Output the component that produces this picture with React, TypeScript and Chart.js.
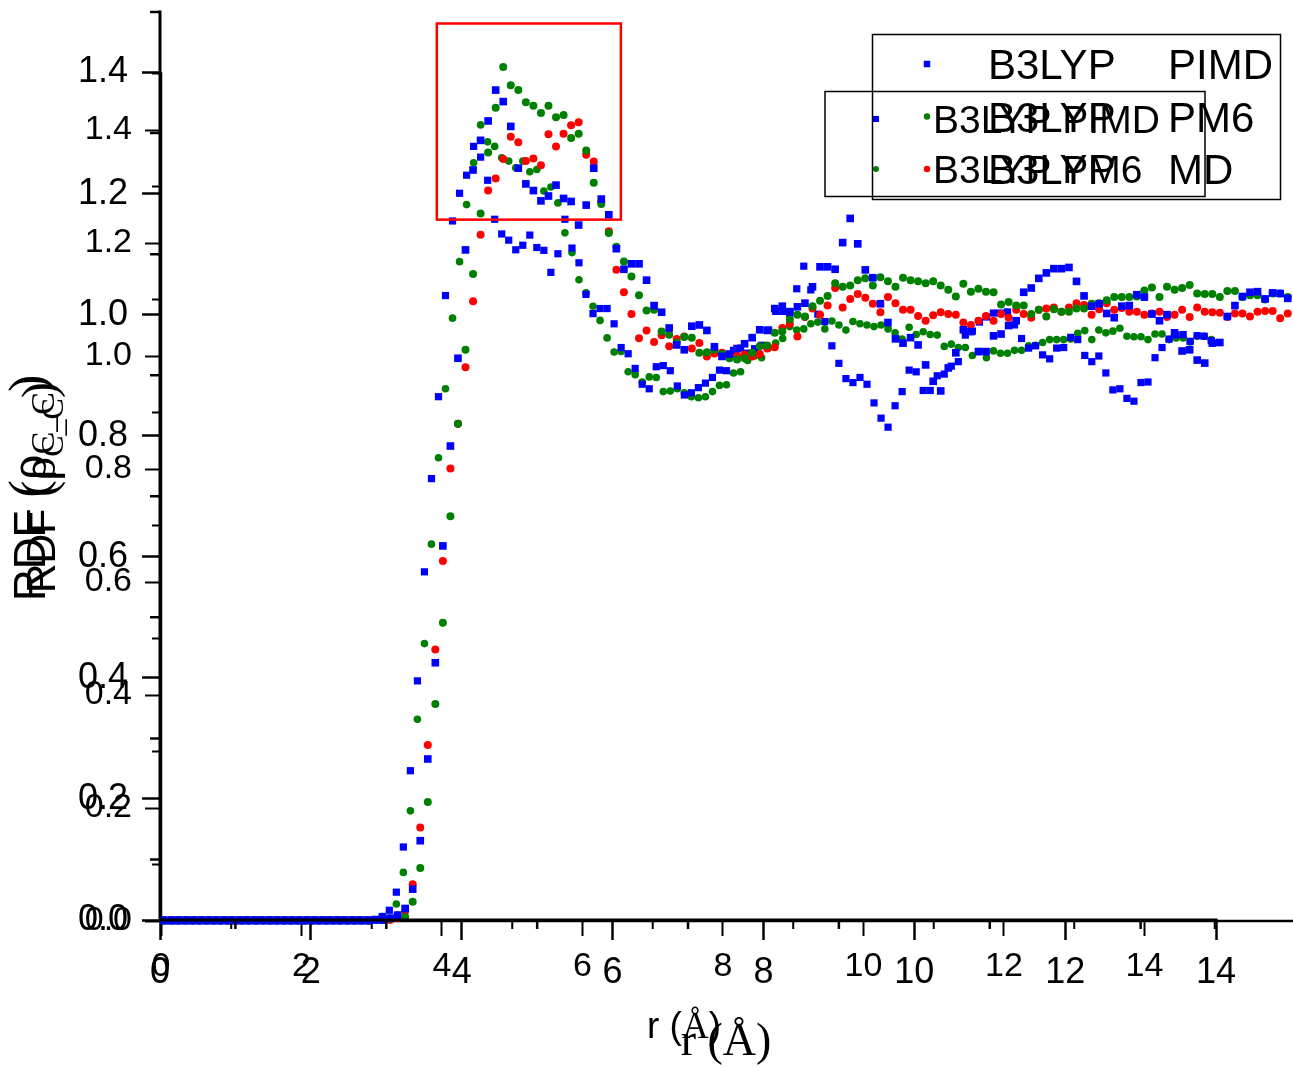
import { useEffect, useRef } from "react";
import { Chart, registerables } from "chart.js";

Chart.register(...registerables);

// ---------------- data ----------------
// radial distance bin centres (Å)
const rValues = [
  0.05, 0.15, 0.25, 0.35, 0.45, 0.55, 0.65, 0.75, 0.85, 0.95,
  1.05, 1.15, 1.25, 1.35, 1.45, 1.55, 1.65, 1.75, 1.85, 1.95,
  2.05, 2.15, 2.25, 2.35, 2.45, 2.55, 2.65, 2.75, 2.85, 2.95,
  3.05, 3.15, 3.25, 3.35, 3.45, 3.55, 3.65, 3.75, 3.85, 3.95,
  4.05, 4.15, 4.25, 4.35, 4.45, 4.55, 4.65, 4.75, 4.85, 4.95,
  5.05, 5.15, 5.25, 5.35, 5.45, 5.55, 5.65, 5.75, 5.85, 5.95,
  6.05, 6.15, 6.25, 6.35, 6.45, 6.55, 6.65, 6.75, 6.85, 6.95,
  7.05, 7.15, 7.25, 7.35, 7.45, 7.55, 7.65, 7.75, 7.85, 7.95,
  8.05, 8.15, 8.25, 8.35, 8.45, 8.55, 8.65, 8.75, 8.85, 8.95,
  9.05, 9.15, 9.25, 9.35, 9.45, 9.55, 9.65, 9.75, 9.85, 9.95,
  10.05, 10.15, 10.25, 10.35, 10.45, 10.55, 10.65, 10.75, 10.85, 10.95,
  11.05, 11.15, 11.25, 11.35, 11.45, 11.55, 11.65, 11.75, 11.85, 11.95,
  12.05, 12.15, 12.25, 12.35, 12.45, 12.55, 12.65, 12.75, 12.85, 12.95,
  13.05, 13.15, 13.25, 13.35, 13.45, 13.55, 13.65, 13.75, 13.85, 13.95,
  14.05, 14.15, 14.25, 14.35, 14.45, 14.55, 14.65, 14.75, 14.85, 14.95,
];

// B3LYP PIMD (blue squares)
const pimd = [
  0, 0, 0, 0, 0, 0, 0, 0, 0, 0,
  0, 0, 0, 0, 0, 0, 0, 0, 0, 0,
  0, 0, 0, 0, 0, 0, 0, 0, 0, 0,
  0.003, 0.008, 0.019, 0.051, 0.131, 0.266, 0.425, 0.618, 0.783, 0.928,
  1.107, 1.239, 1.288, 1.320, 1.371, 1.352, 1.311, 1.242, 1.216, 1.205,
  1.188, 1.196, 1.214, 1.192, 1.187, 1.148, 1.181, 1.242, 1.191, 1.165,
  1.109, 1.075, 1.084, 1.084, 1.057, 1.015, 1.004, 0.978, 0.950, 0.942,
  0.981, 0.983, 0.974, 0.947, 0.931, 0.935, 0.944, 0.952, 0.962, 0.975,
  0.974, 1.010, 1.014, 1.005, 1.013, 1.019, 1.046, 1.079, 1.079, 1.075,
  1.119, 1.159, 1.117, 1.074, 1.061, 1.018, 0.987, 0.960, 0.953, 0.962,
  0.950, 0.917, 0.890, 0.874, 0.912, 0.937, 0.975, 0.972, 0.939, 0.939,
  0.965, 0.968, 0.982, 0.990, 1.037, 1.044, 1.060, 1.069, 1.076, 1.076,
  1.078, 1.055, 1.031, 1.014, 1.018, 1.002, 0.995, 1.014, 1.015, 1.033,
  1.029, 1.001, 0.990, 1.000, 0.970, 0.940, 0.942, 0.925, 0.920, 0.953,
  0.954, 0.997, 1.015, 1.030, 1.037, 1.038, 1.026, 1.036, 1.035, 1.027,
];

// B3LYP PM6 (green circles)
const pm6 = [
  0, 0, 0, 0, 0, 0, 0, 0, 0, 0,
  0, 0, 0, 0, 0, 0, 0, 0, 0, 0,
  0, 0, 0, 0, 0, 0, 0, 0, 0, 0,
  0.002, 0.008, 0.005, 0.030, 0.086, 0.195, 0.357, 0.491, 0.667, 0.820,
  0.942, 1.067, 1.167, 1.268, 1.342, 1.409, 1.379, 1.371, 1.351, 1.345,
  1.333, 1.345, 1.326, 1.330, 1.292, 1.299, 1.271, 1.218, 1.183, 1.135,
  1.112, 1.088, 1.063, 1.032, 1.007, 1.008, 0.972, 0.967, 0.954, 0.963,
  0.962, 0.937, 0.938, 0.942, 0.935, 0.928, 0.926, 0.928, 0.937, 0.948,
  0.949, 0.970, 0.972, 0.992, 1.000, 0.997, 1.014, 1.023, 1.031, 1.052,
  1.046, 1.048, 1.057, 1.060, 1.048, 1.062, 1.055, 1.046, 1.061, 1.057,
  1.055, 1.052, 1.055, 1.048, 1.041, 1.030, 1.051, 1.038, 1.043, 1.038,
  1.037, 1.017, 1.021, 1.015, 1.015, 1.001, 1.008, 0.997, 1.009, 1.005,
  1.005, 1.010, 1.010, 1.018, 1.019, 1.024, 1.029, 1.029, 1.029, 1.030,
  1.040, 1.045, 1.029, 1.046, 1.041, 1.044, 1.049, 1.035, 1.034, 1.034,
  1.029, 1.039, 1.039, 1.029, 1.032, 1.032, 1.025, 1.035, 1.035, 1.029,
];

// B3LYP MD (red circles)
const md = [
  0, 0, 0, 0, 0, 0, 0, 0, 0, 0,
  0, 0, 0, 0, 0, 0, 0, 0, 0, 0,
  0, 0, 0, 0, 0, 0, 0, 0, 0, 0,
  0.000, 0.003, 0.015, 0.059, 0.153, 0.289, 0.447, 0.593, 0.746, 0.820,
  0.913, 1.022, 1.132, 1.205, 1.225, 1.257, 1.294, 1.285, 1.254, 1.258,
  1.247, 1.298, 1.278, 1.299, 1.313, 1.318, 1.264, 1.253, 1.186, 1.138,
  1.074, 1.037, 1.001, 0.961, 0.974, 0.955, 0.966, 0.948, 0.960, 0.964,
  0.944, 0.953, 0.931, 0.936, 0.937, 0.932, 0.932, 0.934, 0.931, 0.935,
  0.944, 0.946, 0.978, 0.985, 0.964, 0.996, 1.010, 1.000, 1.015, 1.044,
  1.012, 1.026, 1.034, 1.028, 1.018, 1.004, 1.029, 1.019, 1.008, 1.008,
  0.998, 0.990, 0.999, 1.004, 1.001, 1.000, 0.987, 0.983, 0.990, 0.998,
  0.990, 1.001, 0.995, 1.008, 1.001, 0.995, 1.008, 1.010, 1.012, 1.005,
  1.012, 1.019, 1.016, 1.000, 1.009, 1.019, 1.008, 1.011, 1.005, 1.005,
  1.000, 1.002, 1.005, 0.996, 1.000, 1.008, 0.996, 1.012, 1.005, 1.004,
  1.003, 0.996, 1.002, 1.002, 0.997, 1.005, 1.006, 1.006, 0.994, 1.002,
];

// tick values
const xMajorTicks = [0, 2, 4, 6, 8, 10, 12, 14];
const xMinorTicksA = [1, 3, 5, 7, 9, 11, 13];
const xMinorTicksB = [1, 3, 5, 7, 9, 11, 13, 15];
const yMajorTicks = [0, 0.2, 0.4, 0.6, 0.8, 1.0, 1.2, 1.4];
const yMinorTicks = [0.1, 0.3, 0.5, 0.7, 0.9, 1.1, 1.3, 1.5];

// legend texts
const functionalName = "B3LYP";
const methodsA = ["PIMD", "PM6", "MD"];
const labelsB = ["B3LYP PIMD", "B3LYP PM6"];

// highlighted peak region (plot A data coordinates)
const highlightBox = { r0: 3.67, r1: 6.11, g0: 1.157, g1: 1.481 };

const BLUE = "#0000ff";
const GREEN = "#008000";
const RED = "#ff0000";
const SANS = "'Liberation Sans', Arial, sans-serif";
const SERIF = "'Liberation Serif', 'Times New Roman', serif";

const W = 1293;
const H = 1067;

type Run = { t: string; family: string; size: number; dy?: number };

function runsWidth(ctx: CanvasRenderingContext2D, runs: Run[]) {
  let w = 0;
  for (const r of runs) {
    ctx.font = `${r.size}px ${r.family}`;
    w += ctx.measureText(r.t).width;
  }
  return w;
}

function drawRuns(ctx: CanvasRenderingContext2D, runs: Run[], x: number, y: number) {
  let cx = x;
  ctx.textBaseline = "alphabetic";
  ctx.textAlign = "left";
  for (const r of runs) {
    ctx.font = `${r.size}px ${r.family}`;
    ctx.fillText(r.t, cx, y + (r.dy || 0));
    cx += ctx.measureText(r.t).width;
  }
}

function drawMarker(ctx: CanvasRenderingContext2D, style: string, color: string, x: number, y: number, size: number) {
  ctx.fillStyle = color;
  if (style === "rect") {
    ctx.fillRect(x - size / 2, y - size / 2, size, size);
  } else {
    ctx.beginPath();
    ctx.arc(x, y, size / 2, 0, Math.PI * 2);
    ctx.fill();
  }
}

type SeriesDef = { label: string; values: number[]; color: string; style: string };

type PlotDef = {
  left: number; top: number; bottom: number; rightPad: number;
  xMax: number; xAxisEnd: number; yMax: number;
  tickSize: number; xPad: number; yPad: number;
  xMajorLen: number; yMajorLen: number; xMinorLen: number; yMinorLen: number;
  tickW: number; axisW: number;
  xMinor: number[];
  circleR: number; rectR: number;
  series: SeriesDef[];
  decorate: (chart: any, ctx: CanvasRenderingContext2D) => void;
};

const plotA: PlotDef = {
  left: 160, top: 12, bottom: 920, rightPad: 0,
  xMax: 15.02, xAxisEnd: 14, yMax: 1.5,
  tickSize: 36, xPad: 11, yPad: 14,
  xMajorLen: 20, yMajorLen: 18, xMinorLen: 9, yMinorLen: 10,
  tickW: 2.5, axisW: 3,
  xMinor: xMinorTicksA,
  circleR: 4.0, rectR: 5.4,
  series: [
    { label: "B3LYP PIMD", values: pimd, color: BLUE, style: "rect" },
    { label: "B3LYP PM6", values: pm6, color: GREEN, style: "circle" },
    { label: "B3LYP MD", values: md, color: RED, style: "circle" },
  ],
  decorate: (chart, ctx) => {
    const xs = chart.scales.x;
    const ys = chart.scales.y;
    // highlight box
    const bx0 = xs.getPixelForValue(highlightBox.r0);
    const bx1 = xs.getPixelForValue(highlightBox.r1);
    const by0 = ys.getPixelForValue(highlightBox.g1);
    const by1 = ys.getPixelForValue(highlightBox.g0);
    ctx.strokeStyle = RED;
    ctx.lineWidth = 2.5;
    ctx.strokeRect(bx0, by0, bx1 - bx0, by1 - by0);
    // legend box
    ctx.strokeStyle = "#000";
    ctx.lineWidth = 1.5;
    ctx.strokeRect(872.5, 34.5, 408, 165);
    const rows = [64, 116.5, 169];
    plotA.series.forEach((s, i) => {
      drawMarker(ctx, s.style, s.color, 927, rows[i], 6.5);
      ctx.fillStyle = "#000";
      const base = rows[i] + 0.716 * 42 / 2;
      drawRuns(ctx, [{ t: functionalName, family: SANS, size: 42 }], 988, base);
      drawRuns(ctx, [{ t: methodsA[i], family: SANS, size: 42 }], 1168, base);
    });
    // x title
    const xt: Run[] = [
      { t: "r (", family: SANS, size: 37 },
      { t: "Å", family: SERIF, size: 37 },
      { t: ")", family: SANS, size: 37 },
    ];
    ctx.fillStyle = "#000";
    drawRuns(ctx, xt, 684 - runsWidth(ctx, xt) / 2, 1038);
    // y title
    const yt: Run[] = [
      { t: "RDF", family: SANS, size: 44 },
      { t: " (", family: SERIF, size: 52 },
      { t: "ρ", family: SERIF, size: 52 },
      { t: "C_C", family: SERIF, size: 34, dy: 9 },
      { t: ")", family: SERIF, size: 52 },
    ];
    ctx.save();
    ctx.translate(45, 601);
    ctx.rotate(-Math.PI / 2);
    drawRuns(ctx, yt, 0, 0);
    ctx.restore();
  },
};

const plotB: PlotDef = {
  left: 161, top: 73.5, bottom: 921, rightPad: 1,
  xMax: 16.1, xAxisEnd: 16.1, yMax: 1.5,
  tickSize: 34, xPad: 10, yPad: 13,
  xMajorLen: 15, yMajorLen: 16, xMinorLen: 8, yMinorLen: 9,
  tickW: 2, axisW: 2.5,
  xMinor: xMinorTicksB,
  circleR: 3.8, rectR: 5.1,
  series: [
    { label: "B3LYP PIMD", values: pimd, color: BLUE, style: "rect" },
    { label: "B3LYP PM6", values: pm6, color: GREEN, style: "circle" },
  ],
  decorate: (chart, ctx) => {
    ctx.strokeStyle = "#000";
    ctx.lineWidth = 1.5;
    ctx.strokeRect(825, 91.5, 380, 105);
    const rows = [119, 169];
    plotB.series.forEach((s, i) => {
      drawMarker(ctx, s.style, s.color, 876, rows[i], 6);
      ctx.fillStyle = "#000";
      drawRuns(ctx, [{ t: labelsB[i], family: SANS, size: 39 }], 933, rows[i] + 0.716 * 39 / 2);
    });
    const xt: Run[] = [{ t: "r (Å)", family: SERIF, size: 46 }];
    ctx.fillStyle = "#000";
    drawRuns(ctx, xt, 726 - runsWidth(ctx, xt) / 2, 1055);
    const yt: Run[] = [
      { t: "RDF", family: SANS, size: 41 },
      { t: " (", family: SERIF, size: 48 },
      { t: "ρ", family: SERIF, size: 48 },
      { t: "C_C", family: SERIF, size: 32, dy: 8 },
      { t: ")", family: SERIF, size: 48 },
    ];
    ctx.save();
    ctx.translate(55, 593);
    ctx.rotate(-Math.PI / 2);
    drawRuns(ctx, yt, 0, 0);
    ctx.restore();
  },
};

function makeConfig(p: PlotDef): any {
  const decor = {
    id: "decor",
    afterDraw(chart: any) {
      const ctx = chart.ctx as CanvasRenderingContext2D;
      const xs = chart.scales.x;
      const ys = chart.scales.y;
      ctx.save();
      const x0 = xs.getPixelForValue(0);
      const xe = xs.getPixelForValue(p.xAxisEnd);
      const y0 = ys.getPixelForValue(0);
      const ye = ys.getPixelForValue(p.yMax);
      ctx.strokeStyle = "#000";
      ctx.lineWidth = p.axisW;
      ctx.lineCap = "square";
      ctx.beginPath();
      ctx.moveTo(x0, y0);
      ctx.lineTo(xe, y0);
      ctx.moveTo(x0, y0);
      ctx.lineTo(x0, ye);
      ctx.stroke();
      ctx.lineCap = "butt";
      ctx.lineWidth = p.tickW;
      ctx.beginPath();
      for (const v of p.xMinor) {
        const px = xs.getPixelForValue(v);
        ctx.moveTo(px, y0);
        ctx.lineTo(px, y0 + p.xMinorLen);
      }
      for (const v of yMinorTicks) {
        const py = ys.getPixelForValue(v);
        ctx.moveTo(x0 - p.yMinorLen, py);
        ctx.lineTo(x0, py);
      }
      ctx.stroke();
      p.decorate(chart, ctx);
      ctx.restore();
    },
  };

  return {
    type: "scatter",
    data: {
      datasets: p.series.map((s) => ({
        label: s.label,
        data: rValues.map((r, i) => ({ x: r, y: s.values[i] })),
        showLine: false,
        pointStyle: s.style,
        pointRadius: s.style === "rect" ? p.rectR : p.circleR,
        pointBackgroundColor: s.color,
        pointBorderColor: s.color,
        pointBorderWidth: 0,
        clip: false,
      })),
    },
    options: {
      responsive: false,
      devicePixelRatio: 1,
      animation: false,
      events: [],
      layout: {
        autoPadding: false,
        padding: { left: 0, top: p.top, right: p.rightPad, bottom: 0 },
      },
      plugins: { legend: { display: false }, tooltip: { enabled: false } },
      scales: {
        x: {
          type: "linear",
          position: "bottom",
          min: 0,
          max: p.xMax,
          afterBuildTicks: (s: any) => {
            s.ticks = xMajorTicks.map((v) => ({ value: v }));
          },
          afterFit: (s: any) => {
            s.height = H - p.bottom;
            s.paddingLeft = 0;
            s.paddingRight = 0;
            s.paddingTop = 0;
            s.paddingBottom = 0;
          },
          ticks: {
            autoSkip: false,
            maxRotation: 0,
            minRotation: 0,
            padding: p.xPad,
            color: "#000",
            font: { family: SANS, size: p.tickSize },
            callback: (v: any) => String(v),
          },
          grid: {
            display: true,
            drawOnChartArea: false,
            drawTicks: true,
            tickLength: p.xMajorLen,
            tickWidth: p.tickW,
            tickColor: "#000",
          },
          border: { display: false },
        },
        y: {
          type: "linear",
          position: "left",
          min: 0,
          max: p.yMax,
          afterBuildTicks: (s: any) => {
            s.ticks = yMajorTicks.map((v) => ({ value: v }));
          },
          afterFit: (s: any) => {
            s.width = p.left;
            s.paddingLeft = 0;
            s.paddingRight = 0;
            s.paddingTop = 0;
            s.paddingBottom = 0;
          },
          ticks: {
            autoSkip: false,
            padding: p.yPad,
            color: "#000",
            font: { family: SANS, size: p.tickSize },
            callback: (v: any) => Number(v).toFixed(1),
          },
          grid: {
            display: true,
            drawOnChartArea: false,
            drawTicks: true,
            tickLength: p.yMajorLen,
            tickWidth: p.tickW,
            tickColor: "#000",
          },
          border: { display: false },
        },
      },
    },
    plugins: [decor],
  };
}

export default function App() {
  const refA = useRef<HTMLCanvasElement | null>(null);
  const refB = useRef<HTMLCanvasElement | null>(null);

  useEffect(() => {
    if (!refA.current || !refB.current) return;
    const chartB = new Chart(refB.current, makeConfig(plotB));
    const chartA = new Chart(refA.current, makeConfig(plotA));
    return () => {
      chartA.destroy();
      chartB.destroy();
    };
  }, []);

  const canvasStyle: any = { position: "absolute", left: 0, top: 0, width: W, height: H };
  return (
    <div style={{ position: "absolute", left: 0, top: 0, width: W, height: H, background: "#fff" }}>
      <canvas ref={refB} width={W} height={H} style={canvasStyle} />
      <canvas ref={refA} width={W} height={H} style={canvasStyle} />
    </div>
  );
}
